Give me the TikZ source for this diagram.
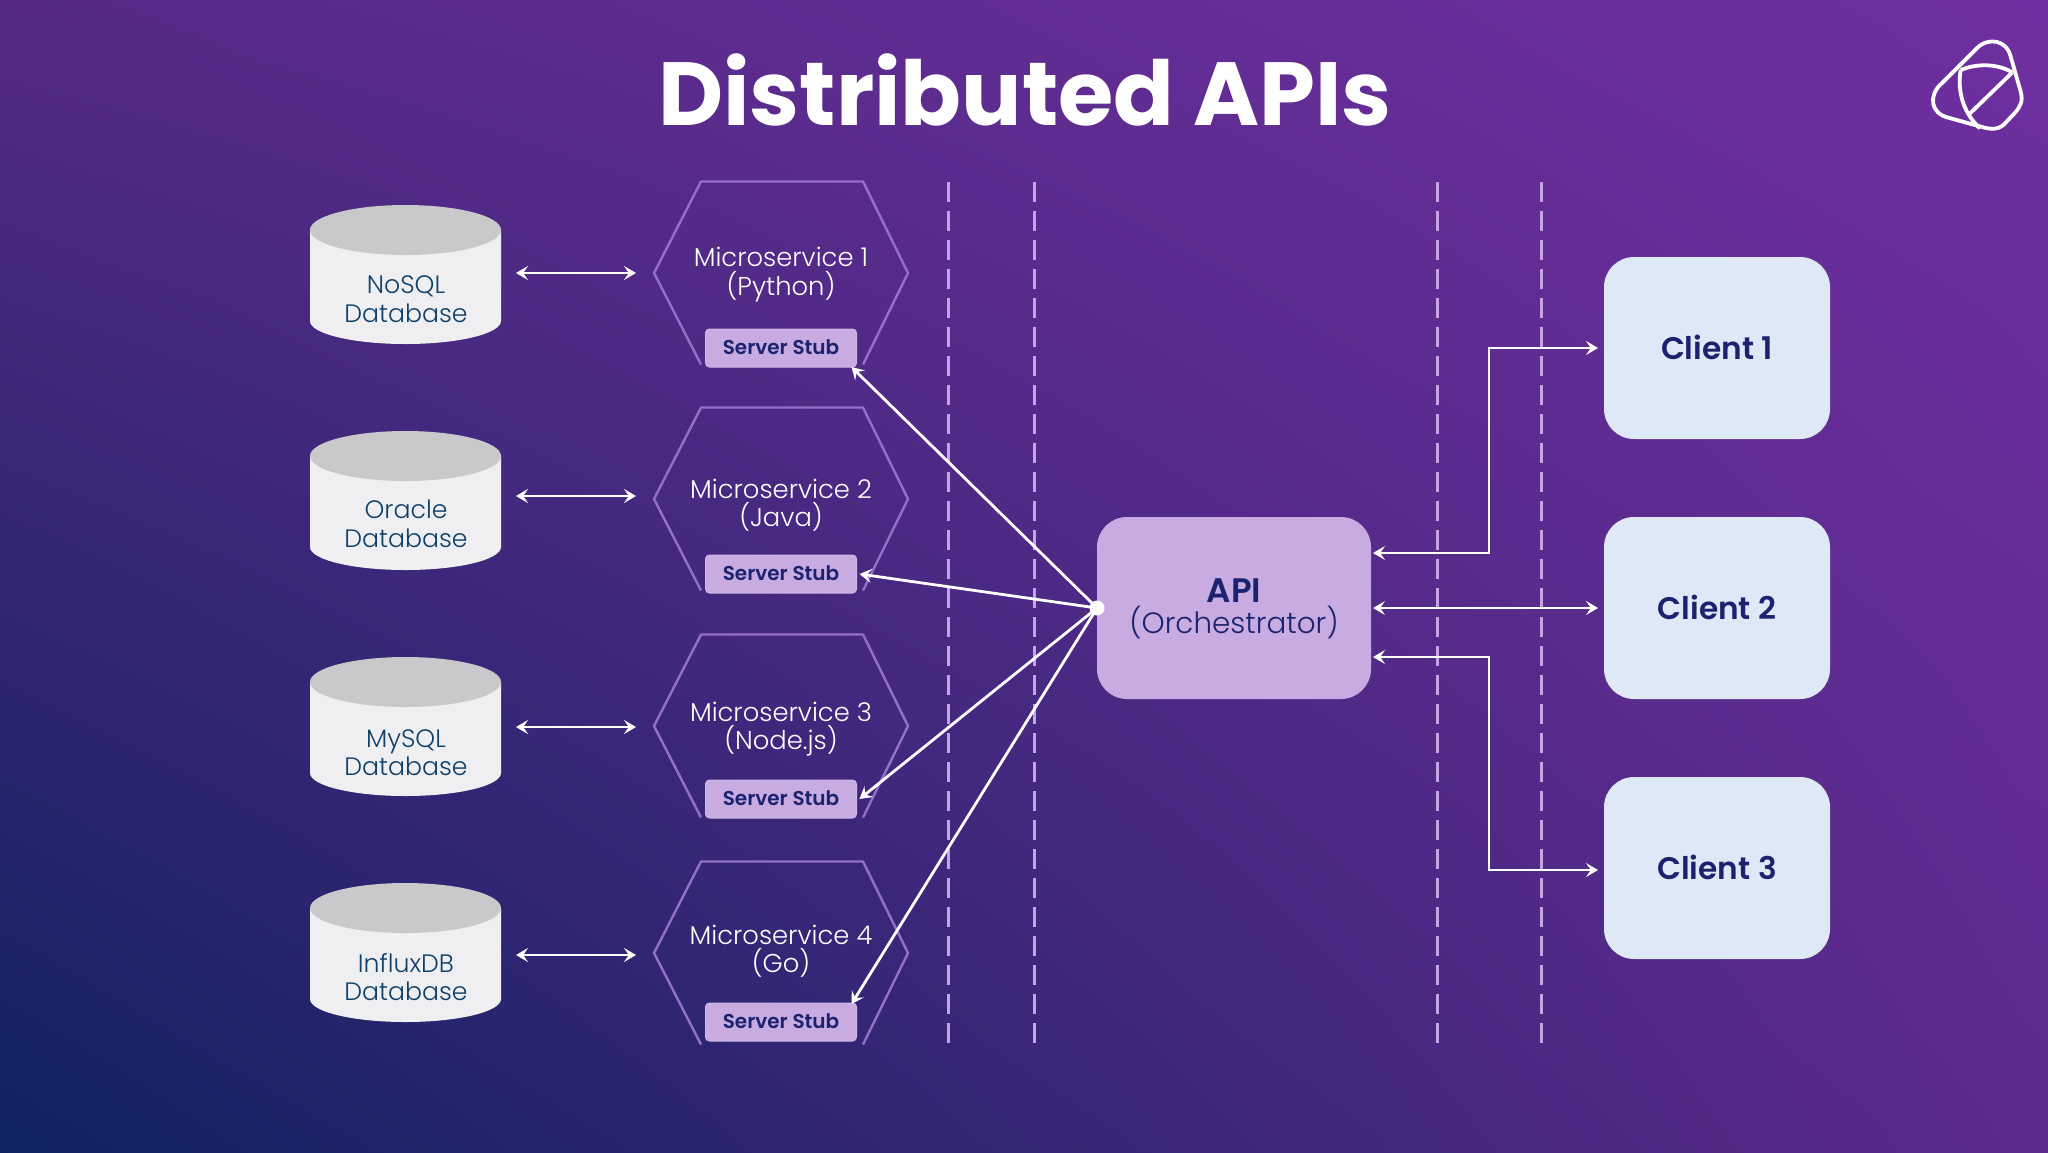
\documentclass[tikz,border=0pt]{standalone}
\usepackage{fontspec}
\setmainfont{Poppins}
\newfontfamily\lightf{Poppins Light}
\newfontfamily\semif{Poppins SemiBold}
\usetikzlibrary{arrows.meta,calc,shadings}
\definecolor{dbtxt}{HTML}{0F4069}
\definecolor{navy}{HTML}{1B2370}
\definecolor{lav}{HTML}{C8ABE0}
\definecolor{hexc}{HTML}{9570C8}
\definecolor{dashc}{HTML}{C4A4E4}
\definecolor{cli}{HTML}{DFE8F6}
\definecolor{cylc}{HTML}{EFEFF1}
\definecolor{cylt}{HTML}{C9C9CB}
\definecolor{bgtl}{HTML}{542A86}
\definecolor{bgtr}{HTML}{702FA0}
\definecolor{bgbl}{HTML}{0F2260}
\definecolor{bgbr}{HTML}{5C2A8C}
\tikzset{
 x=0.5pt,y=-0.5pt,
 tipb/.tip={Stealth[length=6pt,width=7pt,inset=2.4pt]},
 arr/.style={draw=white,line width=1.4pt,-tipb},
 arrb/.style={draw=white,line width=1.4pt,tipb-tipb},
 dbbox/.style={minimum width=95.5pt,minimum height=69pt,inner sep=0pt,outer sep=0pt},
 dbtext/.style={text=dbtxt,font=\lightf\fontsize{12.6pt}{14pt}\selectfont,align=center,inner sep=0pt},
 ms/.style={minimum width=127pt,minimum height=91.5pt,inner sep=0pt,outer sep=0pt},
 mst/.style={text=white,font=\lightf\fontsize{12.9pt}{14pt}\selectfont,align=center,inner sep=0pt},
 hexl/.style={draw=hexc,line width=1.2pt,line join=round},
 stub/.style={fill=lav,draw=lav!85!white,line width=.5pt,rounded corners=2pt,minimum width=75.5pt,minimum height=19pt,inner sep=0pt,outer sep=0pt,text=navy,font=\semif\fontsize{10pt}{12pt}\selectfont},
 cbox/.style={fill=cli,rounded corners=15pt,minimum width=113pt,minimum height=91pt,inner sep=0pt,outer sep=0pt,text=navy,font=\semif\fontsize{15.6pt}{18pt}\selectfont},
 dashl/.style={draw=dashc,line width=1.5pt,dash pattern=on 10pt off 4.5pt},
}
\newcommand\cyl[1]{%
 \fill[cylc] (310,#1+25) -- (310,#1+116) arc[start angle=180,end angle=0,x radius=95.5,y radius=23] -- (501,#1+25) -- cycle;
 \fill[cylt] (405.5,#1+25) ellipse[x radius=95.5,y radius=25];}
\newcommand\hexa[1]{%
 \draw[hexl] ([xshift=23.5pt]#1.south west) -- (#1.west) -- ([xshift=23.5pt]#1.north west) -- ([xshift=-22.5pt]#1.north east) -- (#1.east) -- ([xshift=-22.5pt]#1.south east);}
\begin{document}
\begin{tikzpicture}
\useasboundingbox (0,0) rectangle (2048,1152);
\shade[upper left=bgtl,upper right=bgtr,lower left=bgbl,lower right=bgbr] (0,0) rectangle (2048,1152);
\node[text=white,font=\bfseries\fontsize{44.8pt}{50pt}\selectfont,inner sep=0pt] (title) at (1025,90) {Distributed APIs};
% logo
\begin{scope}[shift={(1880,20)},x=0.1667pt,y=-0.1667pt,line width=1.9pt,line join=round]
 \draw[white] (185,190) -- (290,85) .. controls (325,50) and (380,60) .. (392,110) -- (422,215) .. controls (430,245) and (420,260) .. (405,278) -- (370,315) .. controls (350,330) and (335,328) .. (310,322) -- (205,293) .. controls (150,280) and (145,225) .. (185,190) -- cycle;
 \draw[white] (242,150) .. controls (290,130) and (350,130) .. (397,157);
 \draw[white] (242,150) .. controls (232,205) and (245,275) .. (300,325);
 \draw[white] (265,285) -- (397,157);
\end{scope}
% dashed
\foreach \n/\x in {d1/948,d2/1034,d3/1437,d4/1541}{
 \coordinate (\n t) at (\x,182); \coordinate (\n b) at (\x,1045);
 \draw[dashl] (\n t) -- (\n b);}
% databases
\cyl{205}\cyl{431}\cyl{657}\cyl{883}
\foreach \n/\y in {1/273,2/496,3/727,4/955}{
 \node[dbbox] (db\n) at (405.5,\y) {};}
\node[dbtext] (dbt1) at (406,299) {NoSQL\\[0.3pt]Database};
\node[dbtext] (dbt2) at (406,524) {Oracle\\[0.3pt]Database};
\node[dbtext] (dbt3) at (406,752.5) {MySQL\\[0.3pt]Database};
\node[dbtext] (dbt4) at (406,977) {InfluxDB\\[0.3pt]Database};
% microservices
\node[ms] (ms1) at (781,273) {};
\node[ms] (ms2) at (781,499) {};
\node[ms] (ms3) at (781,726) {};
\node[ms] (ms4) at (781,953) {};
\node[mst] (mt1) at (781,274.5) {Microservice 1\\[0.3pt](Python)};
\node[mst] (mt2) at (781,505) {Microservice 2\\[0.3pt](Java)};
\node[mst] (mt3) at (781,729) {Microservice 3\\[0.3pt](Node.js)};
\node[mst] (mt4) at (781,951) {Microservice 4\\[0.3pt](Go)};
\hexa{ms1}\hexa{ms2}\hexa{ms3}\hexa{ms4}
\node[stub] (st1) at (781,348) {\raisebox{0.5pt}{Server Stub}};
\node[stub] (st2) at (781,574) {\raisebox{0.5pt}{Server Stub}};
\node[stub] (st3) at (781,799) {\raisebox{0.5pt}{Server Stub}};
\node[stub] (st4) at (781,1022) {\raisebox{0.5pt}{Server Stub}};
% API & clients
\node[fill=lav,rounded corners=15pt,minimum width=137pt,minimum height=91pt,inner sep=0pt,outer sep=0pt,text=navy,align=center,font=\lightf\fontsize{14.7pt}{16pt}\selectfont] (api) at (1234,608) {\rule{0pt}{13pt}{\semif\fontsize{17pt}{17pt}\selectfont API}\\[-0.7pt](Orchestrator)};
\node[cbox] (c1) at (1717,348) {\raisebox{1pt}{Client 1}};
\node[cbox] (c2) at (1717,608) {\raisebox{1pt}{Client 2}};
\node[cbox] (c3) at (1717,868) {\raisebox{1pt}{Client 3}};
% connectors
\draw[arrb,shorten <=7.5pt,shorten >=9pt] (db1.east) -- (ms1.west);
\draw[arrb,shorten <=7.5pt,shorten >=9pt] (db2.east) -- (db2.east -| ms2.west);
\draw[arrb,shorten <=7.5pt,shorten >=9pt] (db3.east) -- (db3.east -| ms3.west);
\draw[arrb,shorten <=7.5pt,shorten >=9pt] (db4.east) -- (db4.east -| ms4.west);
\draw[arr] (api.west) -- ([xshift=-2.5pt]st1.south east);
\draw[arr] (api.west) -- ([xshift=1.5pt]st2.east);
\draw[arr] (api.west) -- ([xshift=1.5pt]st3.east);
\draw[arr] (api.west) -- ([xshift=-2.5pt,yshift=-0.5pt]st4.north east);
\fill[white] (api.west) circle[radius=7.5];
\coordinate (bus) at (1489,608);
\coordinate (a1) at ([yshift=27.5pt]api.east);
\coordinate (a3) at ([yshift=-24.5pt]api.east);
\coordinate (c3p) at ([yshift=-1pt]c3.west);
\draw[arrb,shorten <=1pt,shorten >=3pt] (a1) -- (a1 -| bus) -- (bus |- c1.west) -- (c1.west);
\draw[arrb,shorten <=1pt,shorten >=3pt] (api.east) -- (c2.west);
\draw[arrb,shorten <=1pt,shorten >=3pt] (a3) -- (a3 -| bus) -- (bus |- c3p) -- (c3p);
\end{tikzpicture}
\end{document}
